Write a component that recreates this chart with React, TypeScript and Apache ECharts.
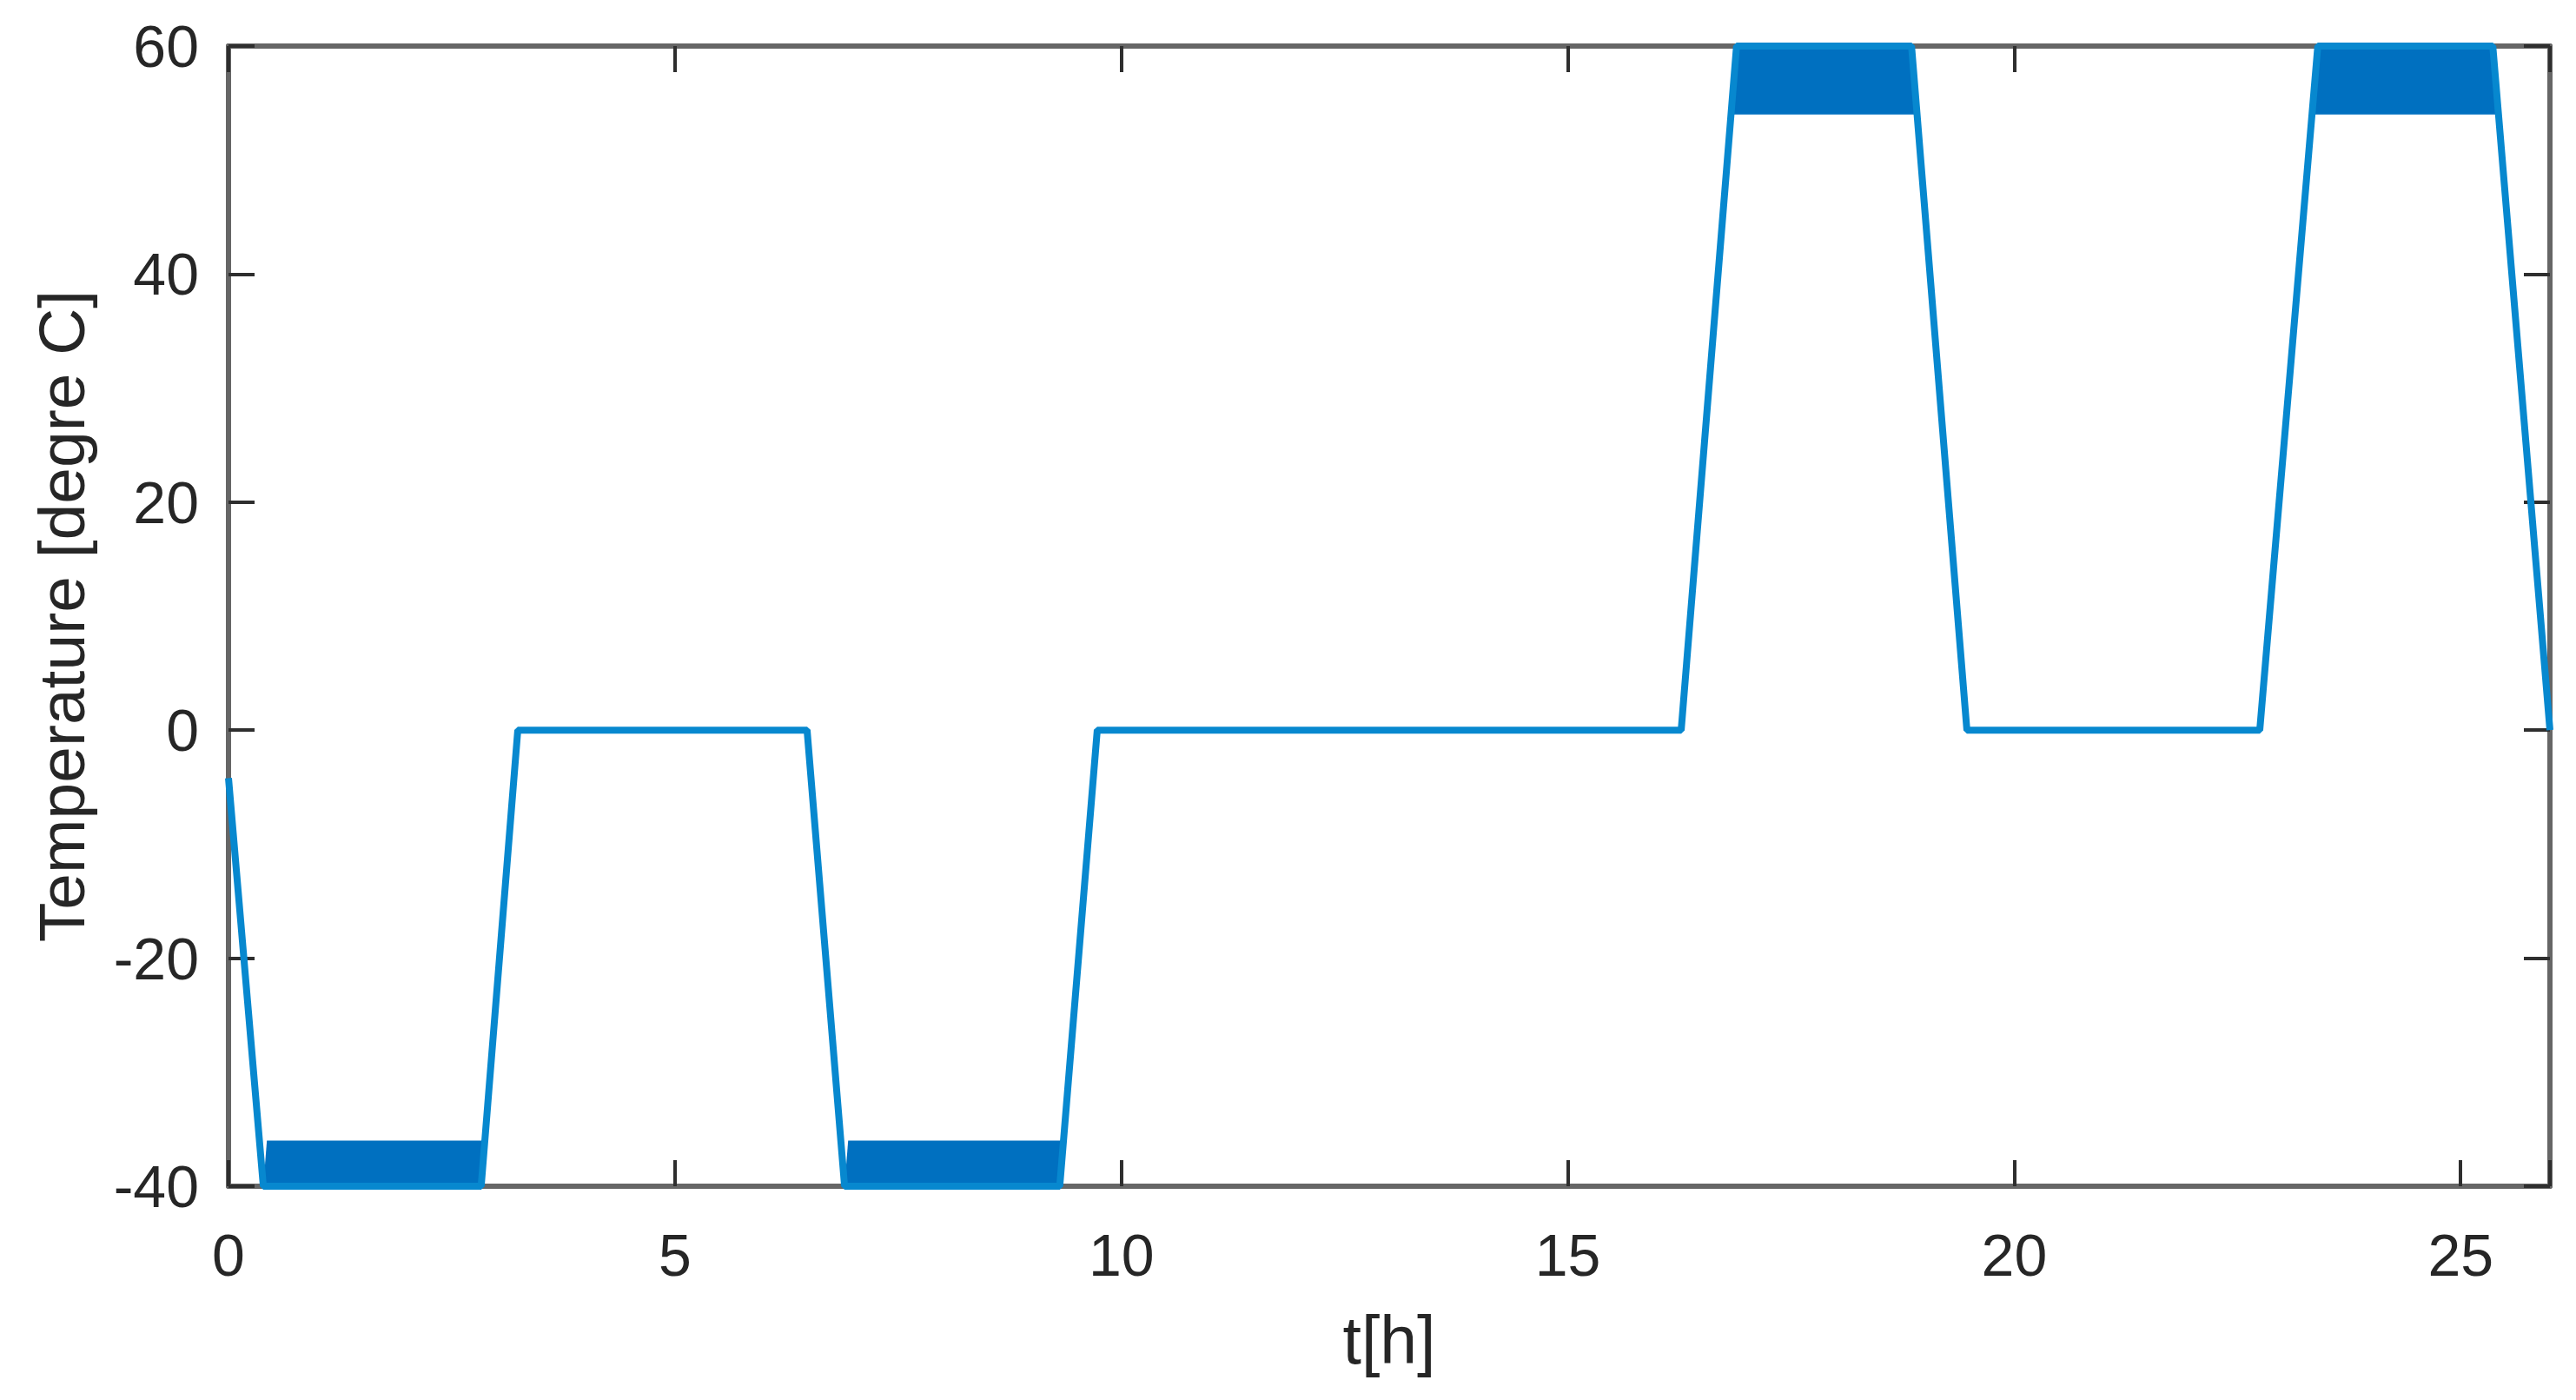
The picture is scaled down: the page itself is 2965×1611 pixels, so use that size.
import React, { useEffect, useRef } from "react";
import * as echarts from "echarts";

// Temperature profile (time in hours, temperature in degrees C)
const timePoints: number[] = [0, 0.39, 2.83, 3.24, 6.48, 6.9, 9.31, 9.73, 16.27, 16.89, 18.85, 19.47, 22.75, 23.4, 25.36, 26];
const tempValues: number[] = [-4.2, -40, -40, 0, 0, -40, -40, 0, 0, 60, 60, 0, 0, 60, 60, 0];

// Dense oscillation bands during dwell periods (edges follow the ramps)
const bandStartLow: number[] = [0.39, 6.9, 16.83, 23.34];
const bandStartHigh: number[] = [0.43, 6.94, 16.89, 23.4];
const bandEndHigh: number[] = [2.86, 9.35, 18.85, 25.36];
const bandEndLow: number[] = [2.83, 9.31, 18.91, 25.42];
const bandLow: number[] = [-40, -40, 54, 54];
const bandHigh: number[] = [-36, -36, 60, 60];

const xTicks: number[] = [0, 5, 10, 15, 20, 25];
const yTicks: number[] = [-40, -20, 0, 20, 40, 60];

const FONT = "'Liberation Sans', Arial, Helvetica, sans-serif";
const TEXT = "#262626";
const AXIS = "#666666";
const TICK = "#2e2e2e";

export default function App() {
  const ref = useRef<HTMLDivElement>(null);
  useEffect(() => {
    if (!ref.current) return;
    const chart = echarts.init(ref.current, null, { renderer: "svg" });
    const lineData = timePoints.map((t, i) => [t, tempValues[i]]);
    const bandData = bandStartLow.map((s, i) => [
      s,
      bandStartHigh[i],
      bandEndHigh[i],
      bandEndLow[i],
      bandLow[i],
      bandHigh[i],
    ]);

    const commonX = {
      type: "value" as const,
      min: 0,
      max: 26,
      interval: 5,
      splitLine: { show: false },
      axisLine: { show: true, onZero: false, lineStyle: { color: AXIS, width: 6 } },
      axisTick: { show: true, inside: true, length: 30, lineStyle: { color: TICK, width: 4 } },
    };
    const commonY = {
      type: "value" as const,
      min: -40,
      max: 60,
      interval: 20,
      splitLine: { show: false },
      axisLine: { show: true, onZero: false, lineStyle: { color: AXIS, width: 6 } },
      axisTick: { show: true, inside: true, length: 30, lineStyle: { color: TICK, width: 4 } },
    };

    chart.setOption({
      animation: false,
      backgroundColor: "#ffffff",
      grid: { left: 263, top: 53, right: 30, bottom: 246, containLabel: false },
      xAxis: [
        {
          ...commonX,
          position: "bottom",
          name: "t[h]",
          nameLocation: "middle",
          nameGap: 138,
          nameTextStyle: { color: TEXT, fontSize: 77, fontFamily: FONT },
          axisLabel: {
            show: true,
            color: TEXT,
            fontSize: 68,
            fontFamily: FONT,
            margin: 45,
            customValues: xTicks,
            formatter: (v: number) => String(v),
          },
        },
        {
          ...commonX,
          position: "top",
          axisLabel: { show: false },
        },
      ],
      yAxis: [
        {
          ...commonY,
          position: "left",
          name: "Temperature [degre C]",
          nameLocation: "middle",
          nameGap: 155,
          nameTextStyle: { color: TEXT, fontSize: 75, fontFamily: FONT },
          axisLabel: {
            show: true,
            color: TEXT,
            fontSize: 68,
            fontFamily: FONT,
            margin: 34,
            customValues: yTicks,
            formatter: (v: number) => String(v),
          },
        },
        {
          ...commonY,
          position: "right",
          axisLabel: { show: false },
        },
      ],
      series: [
        {
          type: "custom",
          xAxisIndex: 0,
          yAxisIndex: 0,
          data: bandData,
          clip: true,
          z: 2,
          renderItem: (params: any, api: any) => {
            const lo = api.value(4);
            const hi = api.value(5);
            const pts = [
              api.coord([api.value(0), lo]),
              api.coord([api.value(1), hi]),
              api.coord([api.value(2), hi]),
              api.coord([api.value(3), lo]),
            ];
            return {
              type: "polygon",
              shape: { points: pts },
              style: { fill: "#0070c0" },
            };
          },
        },
        {
          type: "line",
          xAxisIndex: 0,
          yAxisIndex: 0,
          data: lineData,
          showSymbol: false,
          clip: true,
          z: 3,
          lineStyle: { color: "#0788cf", width: 8 },
        },
      ],
    });
    return () => chart.dispose();
  }, []);
  return (
    <div
      ref={ref}
      style={{ position: "fixed", left: 0, top: 0, width: 2965, height: 1611, background: "#fff" }}
    />
  );
}
